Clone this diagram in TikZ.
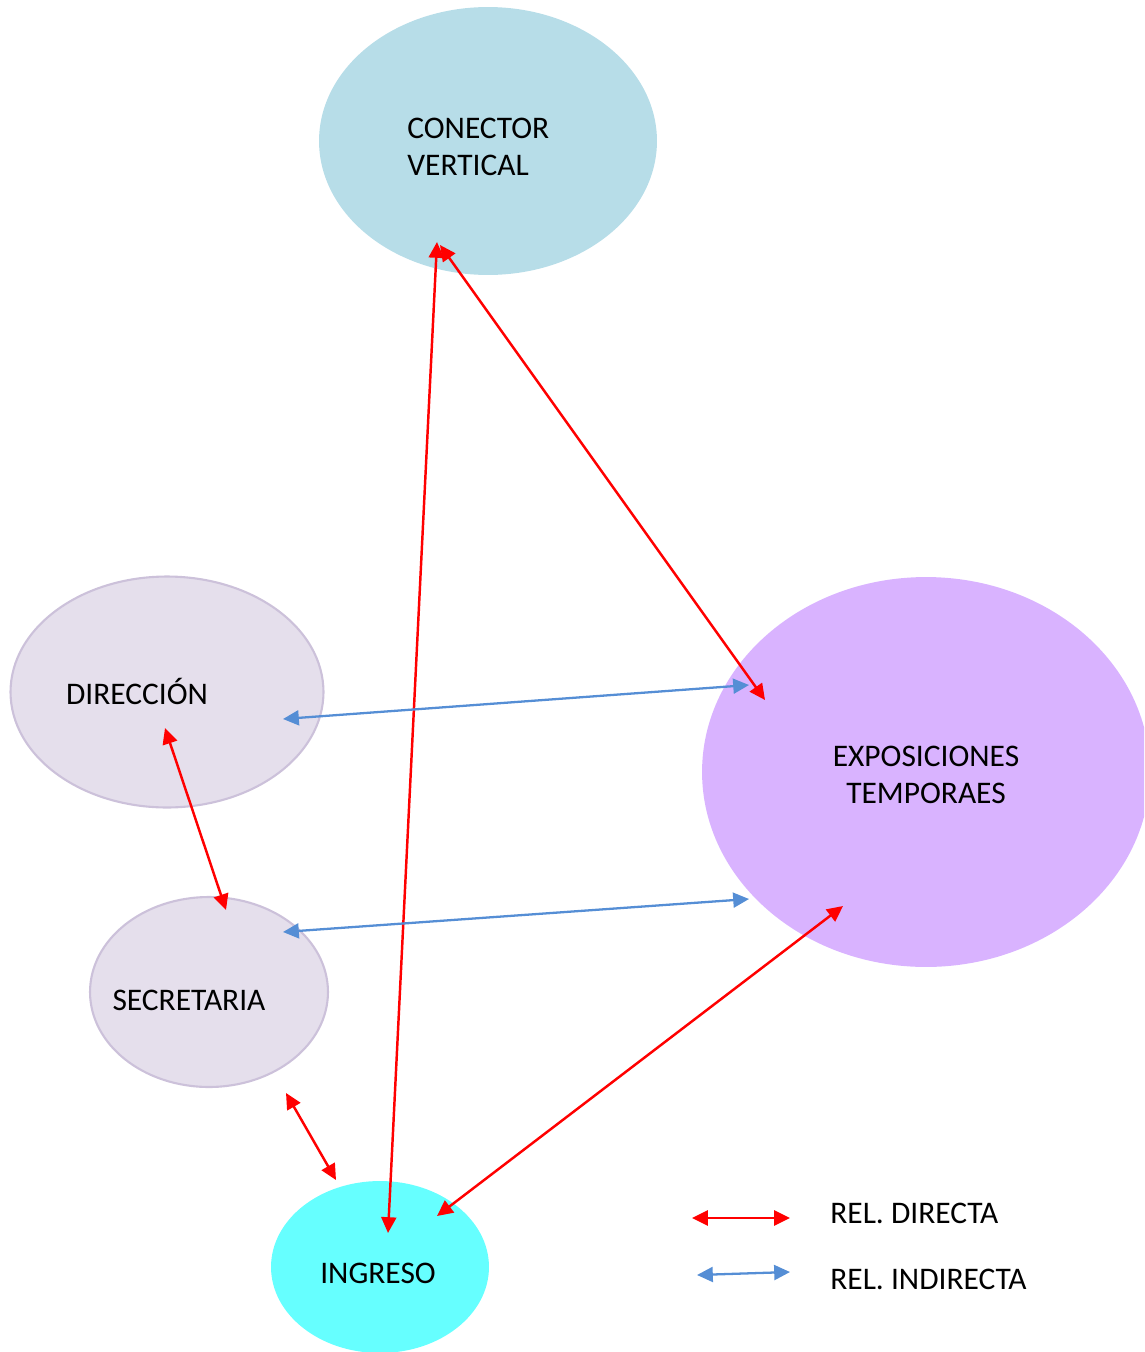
\documentclass[tikz,border=0pt]{standalone}
\usepackage{fontspec}
\setmainfont{Carlito}
\usetikzlibrary{calc,arrows.meta,shapes.geometric}

\definecolor{conectorcol}{HTML}{B7DDE8}
\definecolor{oficinacol}{HTML}{E5DFEC}
\definecolor{oficinaborde}{HTML}{CCC1DA}
\definecolor{expocol}{HTML}{D9B3FF}
\definecolor{ingresocol}{HTML}{66FFFF}
\definecolor{indirectacol}{HTML}{558ED5}

\begin{document}
\begin{tikzpicture}[x=0.02cm, y=-0.02cm, line cap=round, line join=round,
  font=\fontsize{17.9pt}{21pt}\selectfont,
  zona/.style={ellipse, inner sep=0pt, draw=none},
  rotulo/.style={inner sep=0pt, align=left},
  directa/.style={{Triangle[length=9pt,width=8.5pt]}-{Triangle[length=9pt,width=8.5pt]}, line width=1.4pt, red},
  indirecta/.style={{Triangle[length=9pt,width=8.5pt]}-{Triangle[length=9pt,width=8.5pt]}, line width=1.3pt, indirectacol}]

  % ===== marco =====
  \clip (0,0) rectangle (1144,1352);

  % ===== zonas =====
  \node[zona, fill=conectorcol, minimum width=6.76cm, minimum height=5.36cm] (conector) at (488,141) {};
  \node[zona, fill=oficinacol, draw=oficinaborde, line width=1.2pt, minimum width=6.26cm, minimum height=4.62cm] (direccion) at (167,692) {};
  \node[zona, fill=oficinacol, draw=oficinaborde, line width=1.2pt, minimum width=4.76cm, minimum height=3.8cm] (secretaria) at (209,992) {};
  \node[zona, fill=expocol, minimum width=8.96cm, minimum height=7.8cm] (expo) at (926,772) {};
  \node[zona, fill=ingresocol, minimum width=4.36cm, minimum height=3.44cm] (ingreso) at (380,1267) {};

  % ---- textos ----
  \node[rotulo, anchor=west] (tconector) at ($(conector)+(-81,6)$) {CONECTOR\\VERTICAL};
  \node[rotulo] (tdireccion) at ($(direccion)+(-30,-1)$) {DIRECCIÓN};
  \node[rotulo] (tsecretaria) at ($(secretaria)+(-20,8)$) {SECRETARIA};
  \node[rotulo, align=center] (texpo) at ($(expo)+(0,3)$) {EXPOSICIONES\\TEMPORAES};
  \node[rotulo] (tingreso) at ($(ingreso)+(-2,6)$) {INGRESO};

  % ===== relaciones directas =====
  \draw[directa] ($(conector)+(-51,101)$) -- ($(ingreso)+(8,-34)$);
  \draw[directa] ($(conector)+(-48,104)$) -- ($(expo)+(-161,-72)$);
  \draw[directa] ($(direccion)+(-2,36)$) -- ($(secretaria)+(17,-82)$);
  \draw[directa] ($(secretaria)+(77,101)$) -- ($(ingreso)+(-44,-87)$);
  \draw[directa] ($(expo)+(-83,134)$) -- ($(ingreso)+(57,-51)$);

  % ===== relaciones indirectas =====
  \draw[indirecta] ($(direccion)+(116,27)$) -- ($(expo)+(-177,-87)$);
  \draw[indirecta] ($(secretaria)+(74,-60)$) -- ($(expo)+(-177,127)$);

  % ===== leyenda =====
  \node[rotulo, anchor=west] (ldirecta) at (830,1213) {REL. DIRECTA};
  \node[rotulo, anchor=west] (lindirecta) at (830,1279) {REL. INDIRECTA};
  \draw[directa] ($(ldirecta.west)+(-138,5)$) -- ($(ldirecta.west)+(-40,5)$);
  \draw[indirecta] ($(lindirecta.west)+(-133,-4)$) -- ($(lindirecta.west)+(-40,-7)$);

\end{tikzpicture}
\end{document}
